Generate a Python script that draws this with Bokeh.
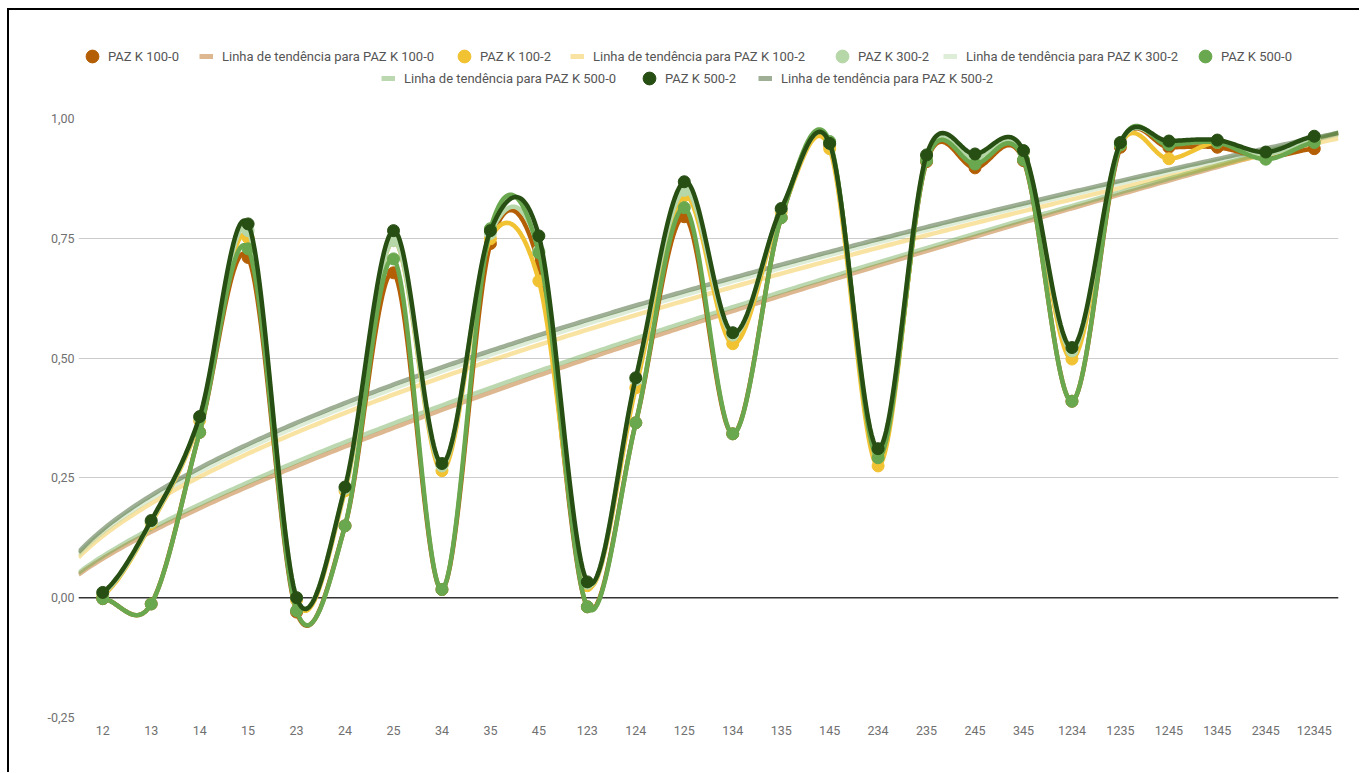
import numpy as np
from bokeh.plotting import figure
from bokeh.layouts import column
from bokeh.models import FixedTicker, Legend, LegendItem, Span
from bokeh.embed import file_html
from bokeh.resources import INLINE

# ---------------- data ----------------
categories = ["12", "13", "14", "15", "23", "24", "25", "34", "35", "45",
              "123", "124", "125", "134", "135", "145", "234", "235", "245", "345",
              "1234", "1235", "1245", "1345", "2345", "12345"]

paz_k_100_0 = [-0.002, -0.013, 0.345, 0.710, -0.030, 0.150, 0.678, 0.017, 0.739, 0.695,
               -0.019, 0.365, 0.795, 0.342, 0.793, 0.945, 0.292, 0.910, 0.897, 0.912,
               0.410, 0.940, 0.940, 0.940, 0.920, 0.937]
paz_k_100_2 = [0.005, 0.155, 0.370, 0.751, -0.005, 0.223, 0.745, 0.265, 0.749, 0.661,
               0.025, 0.438, 0.839, 0.530, 0.805, 0.937, 0.275, 0.920, 0.915, 0.930,
               0.498, 0.945, 0.916, 0.950, 0.925, 0.955]
paz_k_300_2 = [0.008, 0.158, 0.375, 0.766, 0.000, 0.228, 0.745, 0.275, 0.760, 0.724,
               0.030, 0.455, 0.850, 0.548, 0.810, 0.948, 0.305, 0.920, 0.915, 0.930,
               0.515, 0.948, 0.950, 0.952, 0.925, 0.958]
paz_k_500_0 = [-0.002, -0.013, 0.345, 0.728, -0.027, 0.150, 0.707, 0.017, 0.770, 0.720,
               -0.019, 0.365, 0.814, 0.342, 0.793, 0.952, 0.292, 0.912, 0.905, 0.914,
               0.410, 0.945, 0.945, 0.950, 0.915, 0.950]
paz_k_500_2 = [0.011, 0.161, 0.378, 0.780, 0.000, 0.231, 0.766, 0.280, 0.766, 0.755,
               0.033, 0.459, 0.868, 0.553, 0.812, 0.948, 0.311, 0.924, 0.926, 0.933,
               0.522, 0.950, 0.953, 0.955, 0.930, 0.963]

series_names = ["PAZ K 100-0", "PAZ K 100-2", "PAZ K 300-2", "PAZ K 500-0", "PAZ K 500-2"]
series_values = [paz_k_100_0, paz_k_100_2, paz_k_300_2, paz_k_500_0, paz_k_500_2]
trend_prefix = "Linha de tendência para "

y_ticks = [-0.25, 0.0, 0.25, 0.5, 0.75, 1.0]
y_tick_labels = ["-0,25", "0,00", "0,25", "0,50", "0,75", "1,00"]

# ---------------- styles ----------------
colors = ["#b45f06", "#f1c232", "#b6d7a8", "#6aa84f", "#274e13"]
FONT = "Roboto"
TREND_ALPHA = 0.45
TREND_WIDTH = 4.5
LINE_WIDTH = 4.5
DOT_SIZE = 12


def smooth(values, n=30):
    """Catmull-Rom (cubic Hermite) curve through the points, like a 'function' curve."""
    y = np.asarray(values, dtype=float)
    N = len(y)
    ext = np.concatenate([[y[0]], y, [y[-1]]])
    m = (ext[2:] - ext[:-2]) / 2.0
    xs, ys = [], []
    t = np.linspace(0, 1, n, endpoint=False)
    h00 = 2 * t**3 - 3 * t**2 + 1
    h10 = t**3 - 2 * t**2 + t
    h01 = -2 * t**3 + 3 * t**2
    h11 = t**3 - t**2
    for i in range(N - 1):
        xs.extend(i + t)
        ys.extend(h00 * y[i] + h10 * m[i] + h01 * y[i + 1] + h11 * m[i + 1])
    xs.append(N - 1)
    ys.append(y[-1])
    return np.array(xs), np.array(ys)


def power_fit(values):
    """Least-squares power-series trendline y = a * x^b with x = 1..n."""
    y = np.asarray(values, dtype=float)
    x = np.arange(1, len(y) + 1, dtype=float)
    best = None
    for b in np.linspace(0.05, 2.0, 3901):
        xb = x**b
        a = (y * xb).sum() / (xb * xb).sum()
        err = ((y - a * xb) ** 2).sum()
        if best is None or err < best[0]:
            best = (err, a, b)
    return best[1], best[2]


n_cat = len(categories)
W = 1350

# ---------------- main chart ----------------
p = figure(width=W, height=664,
           x_range=(-0.5, n_cat - 0.5), y_range=(y_ticks[0], y_ticks[-1]),
           output_backend="svg", toolbar_location=None,
           min_border_left=69, min_border_right=21, min_border_top=10, min_border_bottom=55)
p.outline_line_color = None

p.xaxis.ticker = FixedTicker(ticks=list(range(n_cat)))
p.xaxis.major_label_overrides = {i: c for i, c in enumerate(categories)}
p.yaxis.ticker = FixedTicker(ticks=y_ticks)
p.yaxis.major_label_overrides = dict(zip(y_ticks, y_tick_labels))
for ax in (p.xaxis[0], p.yaxis[0]):
    ax.axis_line_color = None
    ax.major_tick_line_color = None
    ax.minor_tick_line_color = None
    ax.major_tick_out = 0
    ax.major_tick_in = 0
    ax.minor_tick_out = 0
    ax.major_label_text_font = FONT
    ax.major_label_text_font_size = "12.5px"
    ax.major_label_text_color = "#707070"
p.xaxis.major_label_standoff = 8
p.yaxis.major_label_standoff = 4
p.xgrid.grid_line_color = None
p.ygrid.grid_line_color = "#cccccc"
p.add_layout(Span(location=0, dimension="width", line_color="#333333",
                  line_width=1.5, level="underlay"))

xt = np.linspace(-0.5, n_cat - 0.5, 300)
for vals, col in zip(series_values, colors):
    a, b = power_fit(vals)
    p.line(xt, a * (xt + 1) ** b, line_color=col, line_width=TREND_WIDTH, line_alpha=TREND_ALPHA)

for vals, col in zip(series_values, colors):
    sx, sy = smooth(vals)
    p.line(sx, sy, line_color=col, line_width=LINE_WIDTH, line_join="round", line_cap="round")
    p.scatter(list(range(n_cat)), vals, size=DOT_SIZE, fill_color=col, line_color=col)

# ---------------- legend strip (two centred rows) ----------------
# A strip figure whose frame is aligned with the chart frame; its ranges lie
# above the data, so its renderers only serve as legend glyphs.
LEG_H = 98
lf = figure(width=W, height=LEG_H, x_range=(-0.5, n_cat - 0.5), y_range=(5, 6),
            output_backend="svg", toolbar_location=None,
            min_border_left=0, min_border_right=0, min_border_top=0, min_border_bottom=0)
lf.axis.visible = False
lf.grid.visible = False
lf.outline_line_color = None

dot_r, line_r = [], []
for vals, col in zip(series_values, colors):
    dot_r.append(lf.scatter(list(range(n_cat)), vals, size=DOT_SIZE, fill_color=col, line_color=col))
    line_r.append(lf.line(list(range(n_cat)), vals, line_color=col,
                          line_width=TREND_WIDTH + 0.5, line_alpha=TREND_ALPHA))

# page-pixel anchors of the legend glyphs
ORIGIN_X, BOTTOM_Y = 78, 10 + LEG_H
row1, row2 = 56, 78
legend_specs = [
    ("dot", 0, 92, row1), ("line", 0, 199, row1),
    ("dot", 1, 464, row1), ("line", 1, 570, row1),
    ("dot", 2, 842, row1), ("line", 2, 943, row1),
    ("dot", 3, 1205, row1),
    ("line", 3, 381, row2), ("dot", 4, 649, row2), ("line", 4, 758, row2),
]
for kind, k, px, cy in legend_specs:
    if kind == "dot":
        gw = gh = 32
        item = LegendItem(label=series_names[k], renderers=[dot_r[k]])
        left = px - gw / 2
        standoff = 0
    else:
        gw, gh = 14, 20
        item = LegendItem(label=trend_prefix + series_names[k], renderers=[line_r[k]])
        left = px
        standoff = 9
    lg = Legend(items=[item], orientation="horizontal",
                location=(left - ORIGIN_X, BOTTOM_Y - cy - gh / 2),
                glyph_width=gw, glyph_height=gh, label_height=gh,
                label_standoff=standoff, padding=0, margin=0, spacing=0,
                border_line_color=None, background_fill_alpha=0,
                label_text_font=FONT, label_text_font_size="13px",
                label_text_color="#555555")
    lf.add_layout(lg, "center")

layout = column(lf, p, spacing=0, margin=(8, 0, 0, 7))
layout.styles = {"border-top": "2px solid #000000", "border-left": "2px solid #000000"}

open("out.html", "w").write(file_html(layout, INLINE))
